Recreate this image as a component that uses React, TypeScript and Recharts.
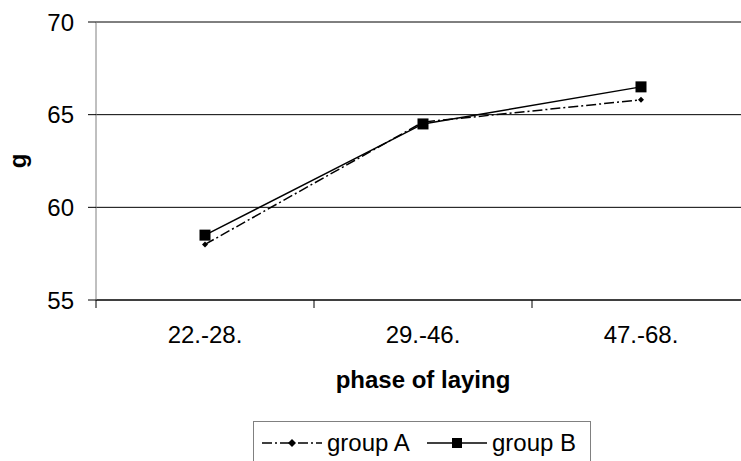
import { CartesianGrid, Legend, Line, LineChart, XAxis, YAxis } from 'recharts'

const PHASES = ['22.-28.', '29.-46.', '47.-68.']
const GROUP_A = [58.0, 64.6, 65.8]
const GROUP_B = [58.5, 64.5, 66.5]
const Y_TICKS = [55, 60, 65, 70]
const SERIES = ['group A', 'group B']

const data = PHASES.map((phase, i) => ({ phase, a: GROUP_A[i], b: GROUP_B[i] }))

const FONT = '"Liberation Sans", Arial, sans-serif'
const HALF_BAND = 109
const DASH_A = '10 3 2 3'

function Diamond({ cx, cy, r = 4 }: any) {
  if (cx == null || cy == null) return null
  return (
    <polygon
      points={`${cx},${cy - r} ${cx + r},${cy} ${cx},${cy + r} ${cx - r},${cy}`}
      fill="#000"
    />
  )
}

function Square({ cx, cy, s = 11 }: any) {
  if (cx == null || cy == null) return null
  return <rect x={cx - s / 2} y={cy - s / 2} width={s} height={s} fill="#000" />
}

function PhaseTick({ x, y, payload, index }: any) {
  const last = index === PHASES.length - 1
  return (
    <g>
      <line x1={x - HALF_BAND} y1={y} x2={x - HALF_BAND} y2={y + 8} stroke="#000" />
      {last && <line x1={x + HALF_BAND} y1={y} x2={x + HALF_BAND} y2={y + 8} stroke="#000" />}
      <text x={x} y={y + 43} textAnchor="middle" fontSize={24} fontFamily={FONT} fill="#000">
        {payload.value}
      </text>
    </g>
  )
}

function LegendBox() {
  return (
    <svg width={336} height={50} style={{ display: 'block' }}>
      <line x1={8} y1={21} x2={68} y2={21} stroke="#000" strokeWidth={1.5} strokeDasharray={DASH_A} />
      <Diamond cx={38} cy={21} />
      <text x={73} y={29} fontSize={24} fontFamily={FONT} fill="#000">
        {SERIES[0]}
      </text>
      <line x1={173} y1={21} x2={233} y2={21} stroke="#000" strokeWidth={1.5} />
      <Square cx={203} cy={21} s={10} />
      <text x={238} y={29} fontSize={24} fontFamily={FONT} fill="#000">
        {SERIES[1]}
      </text>
    </svg>
  )
}

export default function App() {
  return (
    <div
      style={{
        position: 'absolute',
        left: 0,
        top: 0,
        width: 741,
        height: 461,
        overflow: 'hidden',
        background: '#fff',
        fontFamily: FONT,
      }}
    >
      <LineChart width={760} height={461} data={data} margin={{ top: 22, right: 10, left: 0, bottom: 71 }}>
        <CartesianGrid vertical={false} stroke="#000" />
        <XAxis
          dataKey="phase"
          padding={{ left: HALF_BAND, right: HALF_BAND }}
          height={90}
          axisLine={{ stroke: '#000' }}
          tickLine={false}
          tickSize={0}
          tickMargin={0}
          tick={<PhaseTick />}
          interval={0}
          label={{
            value: 'phase of laying',
            position: 'insideBottom',
            offset: 2,
            style: { fontWeight: 'bold', fontSize: 24, fill: '#000', fontFamily: FONT },
          }}
        />
        <YAxis
          domain={[55, 70]}
          ticks={Y_TICKS}
          width={96}
          axisLine={{ stroke: '#808080' }}
          tickLine={{ stroke: '#000' }}
          tickSize={8}
          tickMargin={14}
          tick={{ fontSize: 24, fill: '#000', fontFamily: FONT }}
          label={{
            value: 'g',
            angle: -90,
            position: 'insideLeft',
            offset: 17,
            style: { fontWeight: 'bold', fontSize: 24, fill: '#000', fontFamily: FONT, textAnchor: 'middle' },
          }}
        />
        <Legend
          layout="horizontal"
          verticalAlign="middle"
          align="center"
          content={<LegendBox />}
          wrapperStyle={{
            position: 'absolute',
            left: 253,
            top: 421,
            width: 336,
            height: 50,
            border: '1px solid #808080',
            background: '#fff',
          }}
        />
        <Line
          name={SERIES[0]}
          dataKey="a"
          stroke="#000"
          strokeWidth={1.5}
          strokeDasharray={DASH_A}
          dot={<Diamond />}
          activeDot={false}
          isAnimationActive={false}
        />
        <Line
          name={SERIES[1]}
          dataKey="b"
          stroke="#000"
          strokeWidth={1.5}
          dot={<Square />}
          activeDot={false}
          isAnimationActive={false}
        />
      </LineChart>
    </div>
  )
}
